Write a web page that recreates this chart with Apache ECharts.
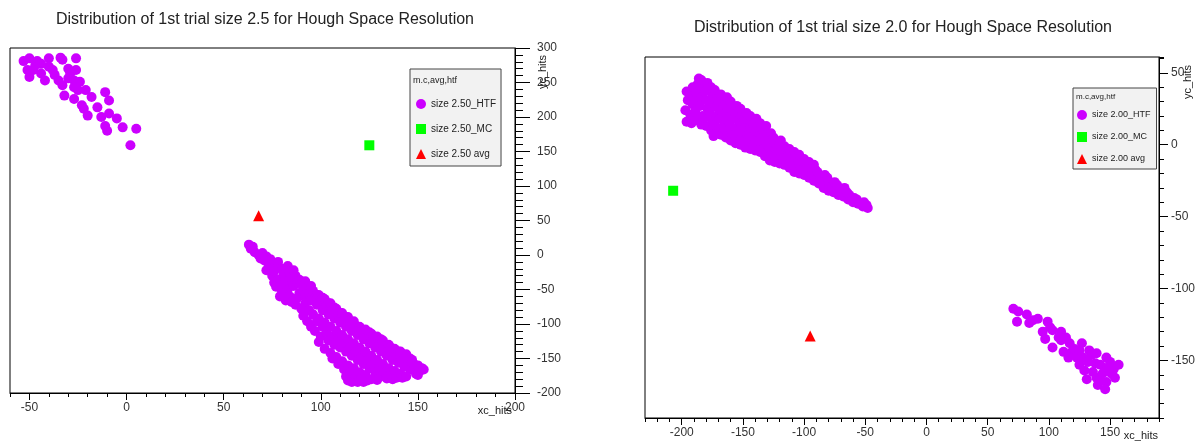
<!DOCTYPE html>
<html><head><meta charset="utf-8">
<script src="https://cdn.jsdelivr.net/npm/echarts@6/dist/echarts.min.js"></script>
<style>html,body{margin:0;padding:0;background:#fff}#c{width:1203px;height:443px}</style>
</head><body><div id="c"></div>
<script>
// ---------- data ----------
const leftTitle = 'Distribution of 1st trial size 2.5 for Hough Space Resolution';
const rightTitle = 'Distribution of 1st trial size 2.0 for Hough Space Resolution';
const leftNames = ['size 2.50_HTF', 'size 2.50_MC', 'size 2.50 avg'];
const rightNames = ['size 2.00_HTF', 'size 2.00_MC', 'size 2.00 avg'];
const legendHeader = 'm.c,avg,htf';
const xName = 'xc_hits';
const yName = 'yc_hits';

const leftHTF = [
 [-53,281],[-50,285],[-46,281],[-40,285],[-34,286],[-33,283],[-26,285],[-51,268],[-47,275],[-44,277],
 [-40,273],[-50,258],[-44,263],[-42,253],[-37,261],[-35,253],[-30,270],[-29,263],[-26,268],[-27,253],
 [-24,251],[-33,246],[-32,231],[-27,226],[-21,239],[-18,229],[-23,217],[-22,212],[-20,202],[-15,214],
 [-13,200],[-11,236],[-9,224],[-9,205],[-5,198],[-11,187],[-10,180],[-2,185],[5,183],[2,159],
 [-27,243],[-25,239],[-30,256],[-38,268],[-48,268],
 [63,15],[64,9],[66,4],[65,12],[68,0],[69,-5],[70,3],[71,-8],
 [72,-2],[73,-12],[74,-18],[72,-22],[74,-6],[75,-30],[76,-40],[77,-14],[76,-24],[77,-46],
 [78,-10],[79,-35],[80,-52],[79,-60],[80,-20],[80,-44],[81,-28],[82,-66],[83,-16],[82,-38],[83,-50],[81,-58],
 [84,-25],[85,-34],[86,-45],[84,-60],[86,-22],[85,-68],[87,-30],[88,-40],[89,-55],[87,-72],[89,-36],[88,-62],
 [90,-42],[91,-50],[92,-60],[90,-78],[92,-38],[91,-88],[92,-70],
 [93,-48],[94,-56],[95,-66],[93,-96],[94,-80],[95,-45],[95,-104],
 [96,-52],[97,-62],[98,-72],[96,-86],[97,-110],[98,-96],[98,-58],
 [99,-58],[100,-68],[101,-80],[99,-92],[100,-118],[101,-104],[99,-126],[101,-62],
 [102,-64],[103,-74],[104,-86],[102,-98],[103,-112],[104,-124],[102,-136],[104,-70],
 [105,-70],[106,-80],[107,-92],[105,-104],[106,-118],[107,-130],[105,-142],[106,-150],[107,-76],
 [108,-78],[109,-88],[110,-98],[108,-110],[109,-122],[110,-134],[108,-148],[109,-158],[110,-84],
 [111,-84],[112,-94],[113,-104],[111,-116],[112,-128],[113,-140],[111,-154],[112,-166],[113,-90],[113,-176],
 [114,-90],[115,-100],[116,-110],[114,-122],[115,-134],[116,-146],[114,-160],[115,-172],[116,-184],[114,-182],
 [117,-96],[118,-106],[119,-116],[117,-128],[118,-140],[119,-152],[117,-164],[118,-176],[119,-184],[117,-100],
 [120,-104],[121,-112],[122,-122],[120,-134],[121,-146],[122,-158],[120,-170],[121,-180],[122,-184],
 [123,-108],[124,-118],[125,-128],[123,-140],[124,-152],[125,-164],[123,-174],[124,-182],[125,-112],
 [126,-114],[127,-124],[128,-134],[126,-146],[127,-158],[128,-170],[126,-180],[127,-118],
 [129,-118],[130,-128],[131,-140],[129,-152],[130,-164],[131,-176],[129,-181],[131,-122],
 [132,-124],[133,-134],[134,-146],[132,-158],[133,-170],[134,-179],[132,-128],
 [135,-130],[136,-140],[137,-152],[135,-164],[136,-174],[137,-180],[136,-134],
 [138,-136],[139,-146],[140,-156],[138,-168],[139,-178],[140,-140],
 [141,-140],[142,-150],[143,-162],[141,-172],[142,-178],[143,-146],
 [144,-144],[145,-154],[146,-166],[144,-176],[146,-150],
 [147,-152],[148,-162],[149,-172],[148,-158],
 [150,-160],[151,-168],[152,-164],[153,-166],[150,-174]
];
const leftMC = [[125,159]];
const leftAvg = [[68,57]];

const rightHTF = [
 [-196,16],[-197,24],[-195,31],[-196,37],
 [-192,15],[-193,21],[-191,28],[-192,34],[-191,40],
 [-188,17],[-189,23],[-187,30],[-188,36],[-187,42],[-186,46],
 [-184,14],[-183,20],[-185,27],[-184,33],[-183,39],[-184,45],
 [-180,13],[-181,19],[-179,25],[-180,31],[-181,37],[-179,43],
 [-176,10],[-175,16],[-177,22],[-176,28],[-175,34],[-176,40],
 [-172,8],[-173,14],[-171,20],[-172,26],[-171,32],[-173,38],
 [-168,7],[-167,12],[-169,18],[-168,24],[-167,30],[-168,35],
 [-164,5],[-165,11],[-163,17],[-164,22],[-165,28],[-163,33],
 [-160,3],[-159,9],[-161,15],[-160,20],[-159,25],[-160,30],
 [-156,1],[-157,7],[-155,12],[-156,18],[-157,23],[-155,27],
 [-152,0],[-151,5],[-153,10],[-152,15],[-151,20],[-152,25],
 [-148,-2],[-149,3],[-147,8],[-148,13],[-149,18],[-147,22],
 [-144,-3],[-143,2],[-145,7],[-144,12],[-143,16],[-144,20],
 [-140,-4],[-141,0],[-139,5],[-140,10],[-141,14],[-139,18],
 [-136,-5],[-135,-1],[-137,3],[-136,8],[-135,12],[-136,15],
 [-132,-8],[-133,-3],[-131,1],[-132,6],[-133,10],[-131,13],
 [-128,-11],[-127,-6],[-129,-1],[-128,3],[-127,8],
 [-124,-12],[-125,-7],[-123,-3],[-124,1],[-125,5],
 [-120,-13],[-119,-8],[-121,-4],[-120,0],[-119,3],
 [-116,-14],[-117,-10],[-115,-5],[-116,-1],
 [-112,-16],[-111,-12],[-113,-7],[-112,-3],
 [-108,-19],[-109,-14],[-107,-9],[-108,-5],
 [-104,-20],[-103,-15],[-105,-11],[-104,-7],
 [-100,-21],[-101,-17],[-99,-13],[-100,-10],
 [-96,-23],[-95,-19],[-97,-15],[-96,-12],
 [-92,-25],[-93,-21],[-91,-17],[-92,-14],
 [-88,-27],[-87,-23],[-89,-19],
 [-84,-30],[-85,-26],[-83,-21],
 [-80,-32],[-79,-28],[-81,-23],
 [-76,-33],[-77,-29],[-75,-26],
 [-72,-35],[-71,-31],[-73,-28],
 [-68,-36],[-69,-33],[-67,-30],
 [-64,-38],[-63,-35],[-65,-33],
 [-60,-40],[-59,-37],[-56,-41],[-57,-38],[-52,-43],[-51,-40],[-48,-44],[-49,-42],
 [-174,6],
 [71,-114],[75,-116],[74,-123],[82,-118],[84,-124],[91,-121],[99,-123],[95,-130],[97,-135],[103,-129],
 [110,-130],[114,-134],[103,-141],[112,-144],[110,-136],[117,-138],[119,-144],[127,-138],[123,-148],[125,-153],
 [129,-157],[131,-163],[133,-143],[139,-145],[138,-152],[135,-146],[142,-153],[146,-157],[139,-162],[140,-167],
 [147,-148],[150,-151],[153,-156],[157,-153],[154,-162],[147,-165],[146,-170],[142,-164],[144,-159],[151,-159],
 [148,-155],[128,-148],[121,-142],[116,-148],[87,-122],[101,-127],[108,-134],[125,-143],[132,-151],[136,-158]
];
const rightMC = [[-207,-32]];
const rightAvg = [[-95,-133]];

const leftXTicks = [-50, 0, 50, 100, 150, 200];
const leftYTicks = [-200, -150, -100, -50, 0, 50, 100, 150, 200, 250, 300];
const rightXTicks = [-200, -150, -100, -50, 0, 50, 100, 150];
const rightYTicks = [-150, -100, -50, 0, 50];

// ---------- chart ----------
const FONT = "'Liberation Sans Narrow','Arial Narrow','Liberation Sans',Arial,sans-serif";
const HTF_COLOR = '#cc00ff', MC_COLOR = '#00ff00', AVG_COLOR = '#ff0000';
const every50 = v => (Math.round(v) % 50 === 0 ? String(Math.round(v)) : '');

function mainX(grid, min, max) {
  return {
    gridIndex: grid, type: 'value', min: min, max: max, interval: 10, position: 'bottom',
    axisLine: { show: true, onZero: false, lineStyle: { color: '#000', width: 1 } },
    axisTick: { show: true, length: 4, lineStyle: { color: '#000' } },
    axisLabel: { formatter: every50, margin: 9, color: '#333', fontSize: 12, fontFamily: FONT },
    splitLine: { show: false }
  };
}
function majorX(grid, min, max, ticks) {
  return {
    gridIndex: grid, type: 'value', min: min, max: max, position: 'bottom',
    axisLine: { show: false, onZero: false }, axisLabel: { show: false }, splitLine: { show: false },
    axisTick: { show: true, length: 7, customValues: ticks, lineStyle: { color: '#000' } }
  };
}
function mainY(grid, min, max, margin, len) {
  return {
    gridIndex: grid, type: 'value', min: min, max: max, interval: 10, position: 'right',
    axisLine: { show: true, onZero: false, lineStyle: { color: '#000', width: 1 } },
    axisTick: { show: true, length: len, lineStyle: { color: '#000' } },
    axisLabel: { formatter: every50, margin: margin, color: '#333', fontSize: 12, fontFamily: FONT },
    splitLine: { show: false }
  };
}
function majorY(grid, min, max, ticks, len) {
  return {
    gridIndex: grid, type: 'value', min: min, max: max, position: 'right',
    axisLine: { show: false, onZero: false }, axisLabel: { show: false }, splitLine: { show: false },
    axisTick: { show: true, length: len, customValues: ticks, lineStyle: { color: '#000' } }
  };
}
function series(names, htf, mc, avg, idx) {
  const base = { type: 'scatter', xAxisIndex: idx, yAxisIndex: idx, silent: true };
  return [
    Object.assign({}, base, { name: names[0], data: htf, symbol: 'circle', symbolSize: 10, itemStyle: { color: HTF_COLOR, opacity: 1 } }),
    Object.assign({}, base, { name: names[1], data: mc, symbol: 'rect', symbolSize: 10, itemStyle: { color: MC_COLOR, opacity: 1 } }),
    Object.assign({}, base, { name: names[2], data: avg, symbol: 'triangle', symbolSize: 11, itemStyle: { color: AVG_COLOR, opacity: 1 } })
  ];
}
function legend(names, left, top, padding, gap, fs) {
  return {
    data: [{ name: names[0], icon: 'circle' }, { name: names[1], icon: 'rect' }, { name: names[2], icon: 'triangle' }],
    left: left, top: top, orient: 'vertical', selectedMode: false,
    backgroundColor: '#f2f2f2', borderColor: '#444', borderWidth: 1, borderRadius: 0,
    padding: padding, itemGap: gap, itemWidth: 10, itemHeight: 10,
    textStyle: { fontSize: fs, color: '#222', fontFamily: FONT }
  };
}
function txt(text, x, y, size, align, rotation) {
  return { type: 'text', x: x, y: y, z: 100, silent: true, rotation: rotation || 0,
    style: { text: text, fill: '#222', fontSize: size, fontFamily: FONT, align: align || 'center', verticalAlign: 'middle' } };
}

const chart = echarts.init(document.getElementById('c'), null, { renderer: 'canvas' });
chart.setOption({
  animation: false,
  backgroundColor: '#fff',
  grid: [
    { left: 10, right: 688, top: 48, bottom: 50, show: true, borderColor: '#000', borderWidth: 1, backgroundColor: 'transparent' },
    { left: 645, right: 44, top: 57, bottom: 25, show: true, borderColor: '#000', borderWidth: 1, backgroundColor: 'transparent' }
  ],
  xAxis: [
    mainX(0, -60, 200), majorX(0, -60, 200, leftXTicks),
    mainX(1, -230, 190), majorX(1, -230, 190, rightXTicks)
  ],
  yAxis: [
    mainY(0, -200, 300, 22, 8), majorY(0, -200, 300, leftYTicks, 15),
    mainY(1, -190, 61, 12, 5), majorY(1, -190, 61, rightYTicks, 9)
  ],
  legend: [
    legend(leftNames, 410, 69, [30, 5, 7, 6], 15, 10),
    legend(rightNames, 1073, 88, [22, 6, 5, 4], 12, 9)
  ],
  graphic: [
    txt(leftTitle, 265, 20, 16),
    txt(rightTitle, 903, 28, 16),
    txt(yName, 543, 72, 11, 'center', Math.PI / 2),
    txt(yName, 1188, 82, 11, 'center', Math.PI / 2),
    txt(xName, 512, 411, 11, 'right'),
    txt(xName, 1158, 436, 11, 'right'),
    txt(legendHeader, 413, 81, 9, 'left'),
    txt(legendHeader, 1076, 97, 8, 'left')
  ],
  series: series(leftNames, leftHTF, leftMC, leftAvg, 0).concat(series(rightNames, rightHTF, rightMC, rightAvg, 2))
});
</script>
</body></html>
